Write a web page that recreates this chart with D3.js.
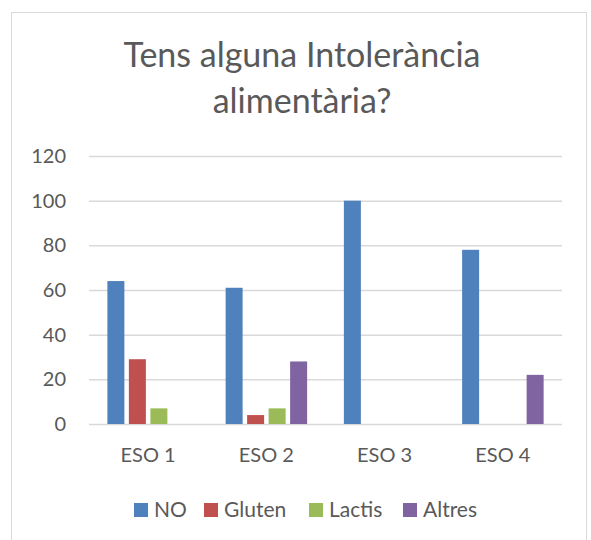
<!DOCTYPE html>
<html>
<head>
<meta charset="utf-8">
<script src="https://cdn.jsdelivr.net/npm/d3@7"></script>
<style>
  html, body { margin: 0; padding: 0; background: #fff; }
  svg { display: block; }
  text { font-family: Lato, "Open Sans", sans-serif; fill: #595959; }
</style>
</head>
<body>
<svg id="chart" width="591" height="540"></svg>
<script>
const categories = ["ESO 1", "ESO 2", "ESO 3", "ESO 4"];
const seriesNames = ["NO", "Gluten", "Lactis", "Altres"];
const seriesColors = ["#4F81BD", "#C0504D", "#9BBB59", "#8064A2"];
const valuesNO = [64, 61, 100, 78];
const valuesGluten = [29, 4, 0, 0];
const valuesLactis = [7, 7, 0, 0];
const valuesAltres = [0, 28, 0, 22];
const yTicks = [0, 20, 40, 60, 80, 100, 120];
const titleLines = ["Tens alguna Intolerància", "alimentària?"];

const seriesValues = [valuesNO, valuesGluten, valuesLactis, valuesAltres];

const svg = d3.select("#chart");

// chart area border
svg.append("rect")
  .attr("x", 11.5).attr("y", 12.5)
  .attr("width", 575).attr("height", 540)
  .attr("fill", "#fff").attr("stroke", "#d9d9d9").attr("stroke-width", 1);

// title
const title = svg.append("text")
  .attr("text-anchor", "middle")
  .attr("font-size", 34);
titleLines.forEach((line, i) => {
  title.append("tspan").attr("x", 302).attr("y", 67 + i * 46).text(line);
});

const plotLeft = 89, plotRight = 562, plotTop = 156, plotBottom = 424;

const x0 = d3.scaleBand().domain(categories).range([plotLeft, plotRight]).padding(0);
const groupW = 81.5;
const x1 = d3.scaleBand().domain(seriesNames)
  .range([(x0.bandwidth() - groupW) / 2, (x0.bandwidth() + groupW) / 2])
  .paddingInner(4.5 / 21.5).paddingOuter(0);
const y = d3.scaleLinear().domain([0, 120]).range([plotBottom, plotTop]);

// gridlines
const yAxis = d3.axisLeft(y).tickValues(yTicks).tickSize(-(plotRight - plotLeft)).tickPadding(23);
const gy = svg.append("g").attr("transform", `translate(${plotLeft},0)`).call(yAxis);
gy.select(".domain").remove();
gy.selectAll(".tick line").attr("stroke", "#d9d9d9").attr("stroke-width", 1.5);
gy.selectAll(".tick text").attr("font-size", 20).attr("fill", "#595959")
  .style("font-family", "Lato, 'Open Sans', sans-serif");

// bars
const groups = svg.append("g").selectAll("g")
  .data(categories)
  .join("g")
  .attr("transform", d => `translate(${x0(d)},0)`);

groups.selectAll("rect")
  .data((c, ci) => seriesNames.map((s, si) => ({ s, si, v: seriesValues[si][ci] })))
  .join("rect")
  .filter(d => d.v > 0)
  .attr("x", d => x1(d.s))
  .attr("y", d => y(d.v))
  .attr("width", x1.bandwidth())
  .attr("height", d => y(0) - y(d.v))
  .attr("fill", d => seriesColors[d.si]);

// x axis labels
const xAxis = d3.axisBottom(x0).tickSize(0).tickPadding(24);
const gx = svg.append("g").attr("transform", `translate(0,${plotBottom})`).call(xAxis);
gx.select(".domain").remove();
gx.selectAll(".tick text").attr("font-size", 20).attr("fill", "#595959")
  .style("font-family", "Lato, 'Open Sans', sans-serif");

// legend
const legendX = [134, 204, 309, 403];
const legend = svg.append("g").selectAll("g")
  .data(seriesNames)
  .join("g")
  .attr("transform", (d, i) => `translate(${legendX[i]},503)`);
legend.append("rect").attr("width", 14).attr("height", 14)
  .attr("fill", (d, i) => seriesColors[i]);
legend.append("text").attr("x", 20).attr("y", 13.5)
  .attr("font-size", 21).text(d => d);
</script>
</body>
</html>
